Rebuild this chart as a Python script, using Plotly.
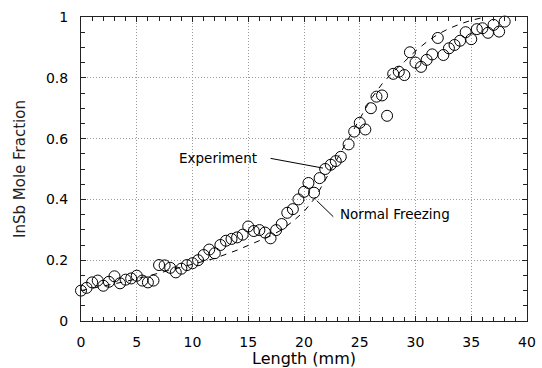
import plotly.graph_objects as go

# Experimental data (length in mm, InSb mole fraction)
exp_x = [0.0, 0.5, 1.0, 1.5, 2.0, 2.5, 3.0, 3.5, 4.0, 4.5, 5.0, 5.5, 6.0, 6.5,
         7.0, 7.5, 8.0, 8.5, 9.0, 9.5, 10.0, 10.5, 11.0, 11.5, 12.0, 12.5, 13.0,
         13.5, 14.0, 14.5, 15.0, 15.5, 16.0, 16.5, 17.0, 17.5, 18.0, 18.5, 19.0,
         19.5, 20.0, 20.4, 20.9, 21.4, 21.9, 22.4, 22.85, 23.3, 24.0, 24.5, 25.0,
         25.5, 26.0, 26.5, 27.0, 27.45, 28.0, 28.5, 29.0, 29.5, 30.0, 30.5, 31.0,
         31.5, 32.0, 32.5, 33.0, 33.5, 34.0, 34.5, 35.0, 35.5, 36.0, 36.5, 37.0,
         37.5, 38.0]
exp_y = [0.100, 0.109, 0.127, 0.133, 0.116, 0.129, 0.147, 0.124, 0.136, 0.140,
         0.149, 0.133, 0.127, 0.133, 0.184, 0.183, 0.175, 0.160, 0.172, 0.184,
         0.190, 0.200, 0.217, 0.235, 0.223, 0.250, 0.264, 0.270, 0.275, 0.284,
         0.311, 0.296, 0.299, 0.291, 0.272, 0.299, 0.319, 0.356, 0.368, 0.400,
         0.425, 0.454, 0.422, 0.470, 0.500, 0.514, 0.526, 0.540, 0.581, 0.623,
         0.652, 0.630, 0.700, 0.738, 0.742, 0.675, 0.813, 0.820, 0.809, 0.884,
         0.850, 0.836, 0.859, 0.877, 0.931, 0.875, 0.897, 0.908, 0.922, 0.950,
         0.927, 0.960, 0.963, 0.948, 0.974, 0.952, 0.985]

# Normal freezing curve
nf_x = [0, 2, 4, 6, 8, 10, 12, 14, 16, 17, 18, 19, 20, 21, 22, 23, 24, 25, 26,
        27, 28, 29, 30, 31, 32, 33, 34, 35, 36]
nf_y = [0.100, 0.115, 0.130, 0.148, 0.168, 0.186, 0.206, 0.233, 0.263, 0.280,
        0.300, 0.328, 0.360, 0.405, 0.470, 0.535, 0.600, 0.665, 0.730, 0.780,
        0.820, 0.853, 0.888, 0.918, 0.943, 0.962, 0.977, 0.989, 0.998]

x_ticks = [0, 5, 10, 15, 20, 25, 30, 35, 40]
y_ticks = [0, 0.2, 0.4, 0.6, 0.8, 1]
y_ticklabels = ["0", "0.2", "0.4", "0.6", "0.8", "1"]

FONT = "DejaVu Sans"

fig = go.Figure()
fig.add_trace(go.Scatter(
    x=nf_x, y=nf_y, mode="lines",
    line=dict(color="black", width=1, dash="6px,6px"),
    showlegend=False, hoverinfo="skip"))
fig.add_trace(go.Scatter(
    x=exp_x, y=exp_y, mode="markers",
    marker=dict(symbol="circle-open", size=11, color="black",
                line=dict(color="black", width=1)),
    cliponaxis=False, showlegend=False))

# annotation text + pointer lines
fig.add_annotation(x=12.33, y=0.536, text="Experiment", showarrow=False,
                   font=dict(family=FONT, size=13.5, color="black"))
fig.add_shape(type="line", x0=17.0, y0=0.535, x1=21.7, y1=0.503,
              line=dict(color="black", width=1))
fig.add_annotation(x=28.2, y=0.352, text="Normal Freezing", showarrow=False,
                   font=dict(family=FONT, size=13.5, color="black"))
fig.add_shape(type="line", x0=22.63, y0=0.343, x1=21.14, y1=0.396,
              line=dict(color="black", width=1))

axis_common = dict(
    showline=True, linecolor="#222", linewidth=1, mirror="ticks",
    ticks="inside", ticklen=5, tickcolor="#222",
    showgrid=True, gridcolor="#9a9a9a", gridwidth=1, griddash="1px,2px",
    zeroline=False, automargin=False,
    tickfont=dict(family=FONT, size=14, color="black"),
)

fig.update_xaxes(
    range=[0, 40], tickvals=x_ticks,
    minor=dict(dtick=1, ticks="inside", ticklen=4, tickcolor="#222", showgrid=False),
    title=dict(text="Length (mm)", font=dict(family=FONT, size=16, color="black"),
               standoff=2),
    ticklabelstandoff=8,
    **axis_common)
fig.update_yaxes(
    range=[0, 1], tickvals=y_ticks, ticktext=y_ticklabels,
    minor=dict(dtick=0.05, ticks="inside", ticklen=4, tickcolor="#222", showgrid=False),
    title=dict(text="InSb Mole Fraction", font=dict(family=FONT, size=15, color="#222"),
               standoff=16),
    ticklabelstandoff=9,
    **axis_common)

fig.update_layout(
    width=542, height=368,
    margin=dict(l=81, r=15, t=17, b=47),
    plot_bgcolor="white", paper_bgcolor="white",
    font=dict(family=FONT, color="black"),
)

fig.write_html("out.html")
